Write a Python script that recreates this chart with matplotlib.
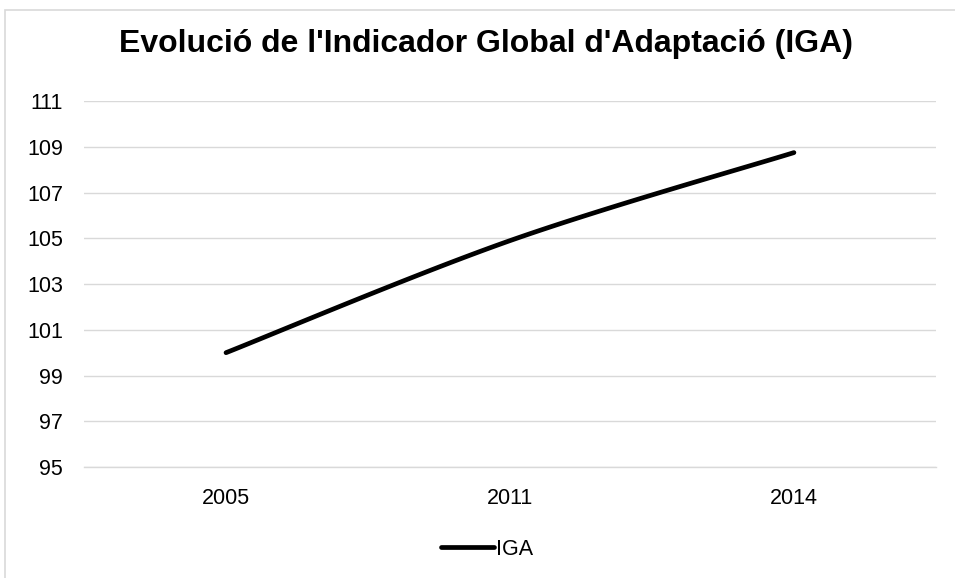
import matplotlib.pyplot as plt
from matplotlib.patches import Rectangle
import numpy as np

plt.rcParams['font.family'] = ['Liberation Sans', 'DejaVu Sans']

years = ['2005', '2011', '2014']
iga = [100.0, 104.9, 108.75]
yticks = [95, 97, 99, 101, 103, 105, 107, 109, 111]


def smooth_line(xs, ys, steps=40):
    # Catmull-Rom style smoothing, like Excel's "smoothed line"
    pts = np.column_stack([xs, ys]).astype(float)
    p = np.vstack([pts[0], pts, pts[-1]])
    out = []
    for i in range(1, len(p) - 2):
        p0, p1, p2, p3 = p[i - 1], p[i], p[i + 1], p[i + 2]
        t = np.linspace(0, 1, steps)[:, None]
        seg = 0.5 * ((2 * p1) + (-p0 + p2) * t +
                     (2 * p0 - 5 * p1 + 4 * p2 - p3) * t ** 2 +
                     (-p0 + 3 * p1 - 3 * p2 + p3) * t ** 3)
        out.append(seg if i == 1 else seg[1:])
    out = np.vstack(out)
    return out[:, 0], out[:, 1]


fig = plt.figure(figsize=(9.55, 5.78), dpi=100)
fig.patches.append(Rectangle((5 / 955, -0.1), 1.2, 1 - 10 / 578 + 0.1,
                             transform=fig.transFigure, fill=False,
                             edgecolor='#d9d9d9', linewidth=1.2))

ax = fig.add_axes([0.088, 0.192, 0.892, 0.633])
x = np.arange(len(years))
sx, sy = smooth_line(x, iga)
ax.plot(sx, sy, color='black', linewidth=3.4, solid_capstyle='round', label='IGA')

ax.set_xlim(-0.5, len(years) - 0.5)
ax.set_ylim(95, 111)
ax.set_xticks(x)
ax.set_xticklabels(years)
ax.set_yticks(yticks)
ax.tick_params(axis='both', length=0, labelsize=15.5, colors='black')
ax.tick_params(axis='x', pad=15)
ax.tick_params(axis='y', pad=15)
ax.grid(axis='y', color='#d9d9d9', linewidth=1)
ax.set_axisbelow(True)
for s in ['top', 'right', 'left']:
    ax.spines[s].set_visible(False)
ax.spines['bottom'].set_color('#d9d9d9')
ax.spines['bottom'].set_linewidth(1)

fig.text(0.509, 1 - 52 / 578, "Evolució de l'Indicador Global d'Adaptació (IGA)",
         ha='center', va='baseline', fontsize=23, fontweight='bold')

fig.legend(loc='center', bbox_to_anchor=(0.51, 0.05), frameon=False,
           fontsize=15.5, handlelength=2.5, handletextpad=0.1)

fig.savefig('out.png', dpi=100)
